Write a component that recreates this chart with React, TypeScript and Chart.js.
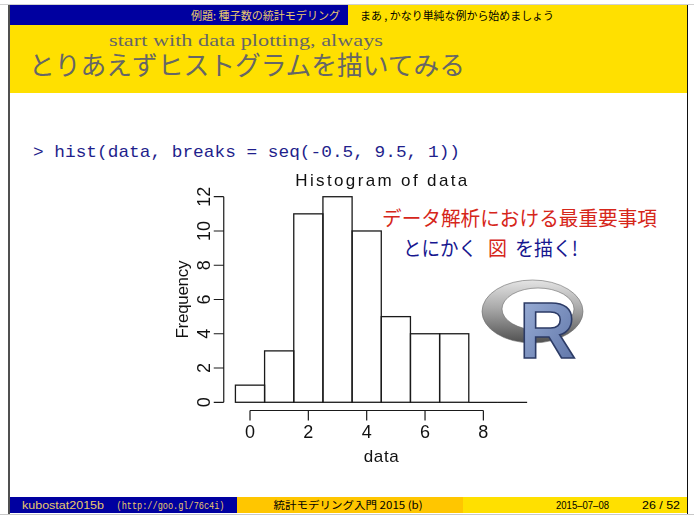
import React, { useEffect, useRef } from 'react';
import { Chart, registerables } from 'chart.js';

Chart.register(...registerables);

// ---- data ----
const binCenters = [0, 1, 2, 3, 4, 5, 6, 7, 8, 9];
const frequencies = [1, 3, 11, 12, 10, 5, 4, 4, 0, 0];
const xTickValues = [0, 2, 4, 6, 8];
const yTickValues = [0, 2, 4, 6, 8, 10, 12];
const chartTitle = 'Histogram of data';
const xAxisLabel = 'data';
const yAxisLabel = 'Frequency';

const CJK = '"Noto Sans CJK JP", sans-serif';
const SANS = '"Liberation Sans", Arial, sans-serif';

function drawSpaced(ctx: CanvasRenderingContext2D, text: string, cx: number, y: number, target: number) {
  const chars = text.split('');
  const widths = chars.map((c) => ctx.measureText(c).width);
  const natural = widths.reduce((a, b) => a + b, 0);
  const gap = chars.length > 1 ? (target - natural) / (chars.length - 1) : 0;
  let x = cx - target / 2;
  ctx.textAlign = 'left';
  chars.forEach((c, i) => {
    ctx.fillText(c, x, y);
    x += widths[i] + gap;
  });
}

const rAxesPlugin = {
  id: 'rAxes',
  afterDatasetsDraw(chart: any) {
    const { ctx, chartArea } = chart;
    const xs = chart.scales.x;
    const ys = chart.scales.y;
    ctx.save();
    ctx.strokeStyle = '#1a1a1a';
    ctx.fillStyle = '#111';
    ctx.lineWidth = 1.3;

    // outline every histogram bar (R rect style, shared edges drawn once)
    const meta = chart.getDatasetMeta(0);
    meta.data.forEach((bar: any) => {
      const { x, y, base, width } = bar.getProps(['x', 'y', 'base', 'width'], true);
      const left = x - width / 2;
      ctx.strokeRect(left, Math.min(y, base), width, Math.abs(base - y));
    });

    // y axis (R style)
    const ax = chartArea.left;
    ctx.lineWidth = 1.2;
    ctx.beginPath();
    ctx.moveTo(ax, ys.getPixelForValue(yTickValues[0]));
    ctx.lineTo(ax, ys.getPixelForValue(yTickValues[yTickValues.length - 1]));
    yTickValues.forEach((v) => {
      const py = ys.getPixelForValue(v);
      ctx.moveTo(ax, py);
      ctx.lineTo(ax - 10, py);
    });
    ctx.stroke();
    ctx.font = `18px ${SANS}`;
    ctx.textBaseline = 'alphabetic';
    yTickValues.forEach((v) => {
      const py = ys.getPixelForValue(v);
      ctx.save();
      ctx.translate(ax - 13.5, py);
      ctx.rotate(-Math.PI / 2);
      ctx.textAlign = 'center';
      ctx.fillText(String(v), 0, 0);
      ctx.restore();
    });

    // x axis
    const ay = chartArea.bottom;
    ctx.beginPath();
    ctx.moveTo(xs.getPixelForValue(xTickValues[0]), ay);
    ctx.lineTo(xs.getPixelForValue(xTickValues[xTickValues.length - 1]), ay);
    xTickValues.forEach((v) => {
      const px = xs.getPixelForValue(v);
      ctx.moveTo(px, ay);
      ctx.lineTo(px, ay + 10);
    });
    ctx.stroke();
    ctx.textAlign = 'center';
    xTickValues.forEach((v) => {
      ctx.fillText(String(v), xs.getPixelForValue(v), ay + 27.5);
    });

    // axis titles
    ctx.font = `17px ${SANS}`;
    drawSpaced(ctx, xAxisLabel, (chartArea.left + chartArea.right) / 2, ay + 51, 35);
    ctx.save();
    ctx.translate(ax - 36, (chartArea.top + chartArea.bottom) / 2);
    ctx.rotate(-Math.PI / 2);
    drawSpaced(ctx, yAxisLabel, 0, 0, 78);
    ctx.restore();

    // main title
    ctx.font = `17px ${SANS}`;
    drawSpaced(ctx, chartTitle, (chartArea.left + chartArea.right) / 2, chartArea.top - 2.5, 172);
    ctx.restore();
  },
};

function Histogram() {
  const ref = useRef<HTMLCanvasElement>(null);
  useEffect(() => {
    if (!ref.current) return;
    const chart = new Chart(ref.current, {
      type: 'bar',
      data: {
        datasets: [
          {
            data: binCenters.map((x, i) => ({ x, y: frequencies[i] })),
            backgroundColor: '#ffffff',
            borderWidth: 0,
            barPercentage: 1,
            categoryPercentage: 1,
            inflateAmount: 0,
          } as any,
        ],
      },
      options: {
        responsive: false,
        animation: false,
        events: [],
        layout: { padding: { left: 63.75, right: 6.2, top: 23.5, bottom: 59.5 } },
        scales: {
          x: { type: 'linear', min: -0.9, max: 9.9, offset: false, display: false },
          y: { type: 'linear', min: -0.48, max: 12.48, display: false },
        },
        plugins: { legend: { display: false }, tooltip: { enabled: false } },
      } as any,
      plugins: [rAxesPlugin],
    });
    return () => chart.destroy();
  }, []);
  return (
    <canvas
      ref={ref}
      width={385}
      height={305}
      style={{ position: 'absolute', left: 160, top: 165, width: 385, height: 305 }}
    />
  );
}

function RLogo() {
  return (
    <g>
      <defs>
        <linearGradient id="ringGrad" x1="0" y1="0" x2="0" y2="1">
          <stop offset="0" stopColor="#e4e4e4" />
          <stop offset="0.45" stopColor="#a8a8a8" />
          <stop offset="1" stopColor="#505050" />
        </linearGradient>
        <linearGradient id="rGrad" x1="0" y1="0" x2="1" y2="1">
          <stop offset="0" stopColor="#9fb3da" />
          <stop offset="1" stopColor="#5a70a4" />
        </linearGradient>
      </defs>
      <path
        fillRule="evenodd"
        fill="url(#ringGrad)"
        stroke="#6a6a6a"
        strokeWidth={0.6}
        d="M482,311.5 a50.5,31.5 0 1,0 101,0 a50.5,31.5 0 1,0 -101,0 Z M502,309 a36,21 0 1,0 72,0 a36,21 0 1,0 -72,0 Z"
      />
      <text
        x={519}
        y={358}
        fontFamily={SANS}
        fontWeight="bold"
        fontSize={79}
        fill="url(#rGrad)"
        stroke="#2c3b66"
        strokeWidth={1.6}
        textLength={57}
        lengthAdjust="spacingAndGlyphs"
      >
        R
      </text>
    </g>
  );
}

function Slide() {
  const fit = { lengthAdjust: 'spacingAndGlyphs' as const };
  return (
    <svg
      width={694}
      height={516}
      style={{ position: 'absolute', left: 0, top: 0 }}
      xmlns="http://www.w3.org/2000/svg"
    >
      <rect x={0} y={0} width={694} height={516} fill="#ffffff" />
      {/* frame */}
      <line x1={0} y1={4.5} x2={694} y2={4.5} stroke="#d0d0d0" strokeWidth={1} />
      <line x1={0} y1={514.5} x2={694} y2={514.5} stroke="#c8c8c8" strokeWidth={1} />
      <rect x={8} y={5} width={2} height={509} fill="#505050" />
      <rect x={687} y={5} width={1} height={509} fill="#111111" />
      {/* header */}
      <rect x={10} y={5} width={677} height={88} fill="#ffe000" />
      <rect x={10} y={5} width={338} height={20} fill="#0000a0" />
      <text x={191} y={19.5} fontFamily={CJK} fontSize={11.5} fill="#e9c86c" textLength={149} {...fit}>
        例題: 種子数の統計モデリング
      </text>
      <text x={360} y={19.5} fontFamily={CJK} fontSize={11} fill="#000000" textLength={194} {...fit}>
        まあ , かなり単純な例から始めましょう
      </text>
      <text x={109} y={45.5} fontFamily={'"Liberation Serif", serif'} fontSize={17.5} fill="#666666" textLength={274} {...fit}>
        start with data plotting, always
      </text>
      <text x={29} y={75} fontFamily={CJK} fontSize={26} fill="#666666" textLength={436} {...fit}>
        とりあえずヒストグラムを描いてみる
      </text>
      {/* code line */}
      <text x={33} y={156.5} fontFamily={'"Liberation Mono", monospace'} fontSize={17} fill="#1f1f8c" textLength={427} {...fit}>
        {'> hist(data, breaks = seq(-0.5, 9.5, 1))'}
      </text>
      {/* notes */}
      <text x={382} y={226} fontFamily={CJK} fontSize={20.5} fill="#d6261a" textLength={275} {...fit}>
        データ解析における最重要事項
      </text>
      <text x={403} y={256} fontFamily={CJK} fontSize={20} fill="#16168f" textLength={74} {...fit}>
        とにかく
      </text>
      <text x={488} y={256} fontFamily={CJK} fontSize={20} fill="#d6261a" textLength={19} {...fit}>
        図
      </text>
      <text x={515} y={256} fontFamily={CJK} fontSize={20} fill="#16168f" textLength={63} {...fit}>
        を描く!
      </text>
      <RLogo />
      {/* footer */}
      <rect x={10} y={497} width={227} height={16} fill="#0000a0" />
      <rect x={237} y={497} width={226} height={16} fill="#ffc600" />
      <rect x={463} y={497} width={224} height={16} fill="#ffe000" />
      <text x={22} y={509} fontFamily={SANS} fontSize={10.5} fill="#e9c86c" textLength={82} {...fit}>
        kubostat2015b
      </text>
      <text x={116.5} y={509} fontFamily={'"Liberation Mono", monospace'} fontSize={10.5} fill="#e9c86c" textLength={108} {...fit}>
        (http://goo.gl/76c4i)
      </text>
      <text x={273.6} y={509} fontFamily={CJK} fontSize={10.5} fill="#000000" textLength={149} {...fit}>
        統計モデリング入門 2015 (b)
      </text>
      <text x={556} y={509} fontFamily={SANS} fontSize={10.5} fill="#000000" textLength={53} {...fit}>
        2015–07–08
      </text>
      <text x={642} y={509} fontFamily={SANS} fontSize={10.5} fill="#000000" textLength={38} {...fit}>
        26 / 52
      </text>
    </svg>
  );
}

export default function App() {
  return (
    <div style={{ position: 'fixed', left: 0, top: 0, width: 694, height: 516, overflow: 'hidden', background: '#fff' }}>
      <Slide />
      <Histogram />
    </div>
  );
}
